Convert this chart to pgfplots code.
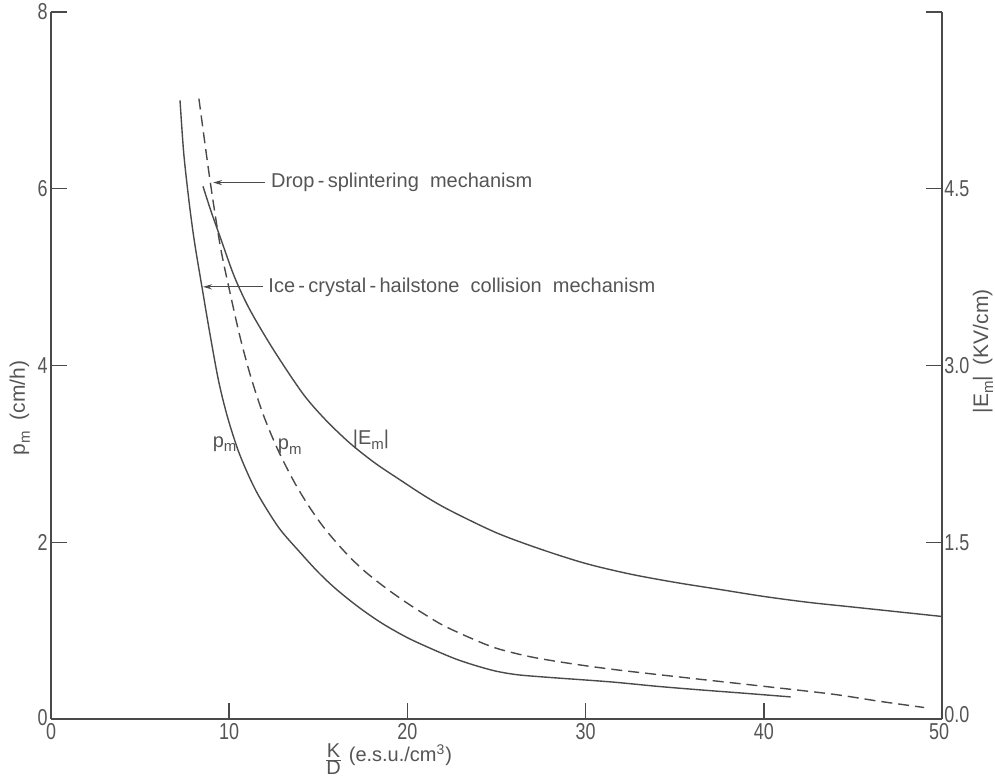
\documentclass[border=0pt]{standalone}
\usepackage{fontspec}
\setmainfont{Liberation Sans}
\newfontfamily\tickfont[FakeStretch=0.78]{Liberation Sans}
\usepackage{pgfplots}
\pgfplotsset{compat=1.18}
\usetikzlibrary{arrows.meta}
\definecolor{ink}{HTML}{4A4A4A}
\definecolor{txt}{HTML}{555555}
\newcommand\sub[1]{\raisebox{-0.45ex}{\fontsize{7.5}{8}\selectfont #1}}

\pgfplotstableread{
x y
7.24 7.00
7.45 6.40
7.75 5.85
8.05 5.40
8.47 4.89
8.90 4.38
9.40 3.83
9.90 3.42
10.50 3.04
11.10 2.75
11.70 2.51
12.80 2.16
14.00 1.88
15.00 1.66
16.00 1.47
17.30 1.26
18.60 1.08
20.00 0.92
21.40 0.79
22.70 0.68
23.90 0.60
25.00 0.54
26.20 0.50
28.00 0.47
31.40 0.42
34.00 0.37
36.40 0.33
39.00 0.29
41.50 0.25
}\pmice

\pgfplotstableread{
x y
8.30 7.02
8.92 6.10
9.50 5.35
10.05 4.82
10.60 4.33
11.20 3.88
11.90 3.45
12.70 3.06
13.60 2.70
14.40 2.43
15.30 2.17
16.40 1.91
17.50 1.69
18.80 1.48
20.00 1.31
21.00 1.18
22.00 1.06
23.50 0.92
25.00 0.80
27.00 0.70
29.40 0.62
32.00 0.55
36.40 0.45
40.00 0.37
43.90 0.28
46.50 0.20
49.00 0.13
}\pmdrop

\pgfplotstableread{
x E
8.53 4.52
9.00 4.30
9.54 4.07
10.30 3.75
11.17 3.47
12.50 3.13
14.14 2.76
15.40 2.54
16.78 2.34
18.20 2.17
19.58 2.03
21.00 1.89
22.39 1.77
25.00 1.58
27.50 1.44
30.00 1.32
32.50 1.23
35.00 1.16
37.50 1.10
40.00 1.04
42.50 0.99
45.00 0.95
47.50 0.91
50.00 0.87
}\emfield

\begin{document}
\begin{tikzpicture}
\useasboundingbox (-25.5pt,-30.5pt) rectangle (472pt,359.5pt);
\begin{axis}[
  at={(0,0)}, anchor=south west,
  scale only axis, width=445.5pt, height=353.5pt,
  xmin=0, xmax=50, ymin=0, ymax=8,
  axis x line=bottom, axis y line=left,
  axis line style={-, draw=ink, line width=0.7pt},
  every tick/.style={draw=ink, line width=0.7pt},
  tick align=inside, major tick length=8pt,
  xtick={0,10,20,30,40,50}, xticklabels={0,10,20,30,40,{\hspace*{-3pt}50}},
  ytick={0,2,4,6,8}, yticklabels={\raisebox{2pt}{0},2,4,6,8},
  tick label style={font=\tickfont\fontsize{11.5}{12}\selectfont, text=txt},
  xticklabel style={inner sep=1pt, yshift=-1pt},
  yticklabel style={inner sep=1.5pt},
  clip=false,
]
\addplot[ink, line width=0.7pt, smooth] table[x=x,y=y] {\pmice};
\addplot[ink, line width=0.7pt, smooth, dash pattern=on 5.5pt off 3pt] table[x=x,y=y] {\pmdrop};

\draw[ink, line width=0.6pt, -{Stealth[length=4.5pt,width=2.6pt]}] (axis cs:12.0,6.07) -- (axis cs:9.1,6.07);
\node[anchor=west, text=txt, font=\fontsize{10}{12}\selectfont, inner sep=0pt] at (axis cs:12.33,6.07) {Drop\,-\,splintering~ mechanism};
\draw[ink, line width=0.6pt, -{Stealth[length=4.5pt,width=2.6pt]}] (axis cs:11.9,4.89) -- (axis cs:8.53,4.89);
\node[anchor=west, text=txt, font=\fontsize{10}{12}\selectfont, inner sep=0pt] at (axis cs:12.18,4.89) {Ice\,-\,crystal\,-\,hailstone~ collision~ mechanism};

\node[text=txt, font=\fontsize{10}{12}\selectfont] at (axis cs:9.74,3.11) {p\sub{m}};
\node[text=txt, font=\fontsize{10}{12}\selectfont] at (axis cs:13.4,3.08) {p\sub{m}};
\node[text=txt, font=\fontsize{10}{12}\selectfont] at (axis cs:17.96,3.16) {|E\sub{m}|};

\node[rotate=90, text=txt, font=\fontsize{10.5}{12}\selectfont] at (axis description cs:-0.035,0.44) {p\sub{m}\enspace(cm/h)};
\node[anchor=base west, text=txt, font=\fontsize{10}{12}\selectfont, inner sep=0pt] at (axis cs:15.3,0) [yshift=-23pt] {$\frac{\mbox{K}}{\mbox{D}}$\ \raisebox{1.5pt}{(e.s.u./cm\textsuperscript{3})}};
\end{axis}

\begin{axis}[
  at={(0,0)}, anchor=south west,
  scale only axis, width=445.5pt, height=353.5pt,
  xmin=0, xmax=50, ymin=0, ymax=6,
  axis x line=none, xtick=\empty,
  axis y line=right,
  axis line style={-, draw=ink, line width=0.7pt},
  every tick/.style={draw=ink, line width=0.7pt},
  tick align=inside, major tick length=8pt,
  ytick={0,1.5,3,4.5,6}, yticklabels={\raisebox{4.5pt}{0.0},1.5,3.0,4.5,{}},
  tick label style={font=\tickfont\fontsize{11.5}{12}\selectfont, text=txt},
  yticklabel style={inner sep=1pt},
  clip=false,
]
\addplot[ink, line width=0.7pt, smooth] table[x=x,y=E] {\emfield};
\node[rotate=90, text=txt, font=\fontsize{10.5}{12}\selectfont] at (axis description cs:1.046,0.52) {|E\sub{m}|\enspace(KV/cm)};
\end{axis}
\end{tikzpicture}
\end{document}
